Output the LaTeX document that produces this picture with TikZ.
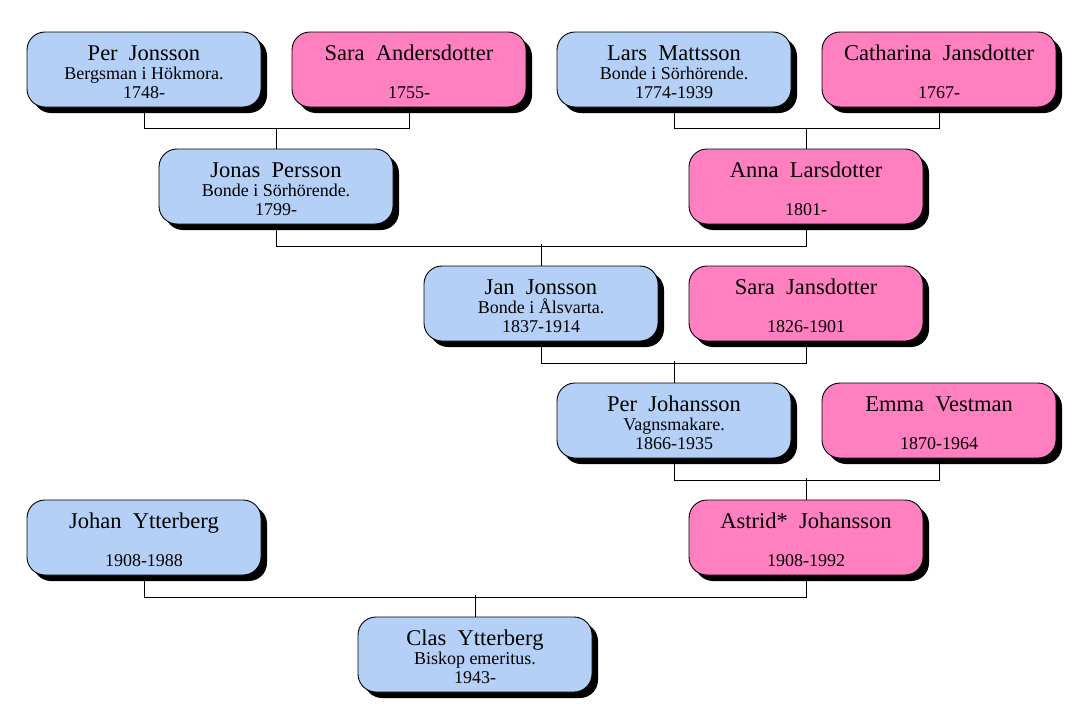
\documentclass[tikz,border=0pt]{standalone}
\usepackage{fontspec}
\setmainfont{Liberation Serif}
\usetikzlibrary{shadows}

\definecolor{manblue}{RGB}{181,208,247}
\definecolor{womanpink}{RGB}{255,128,192}
\tikzset{
  person/.style={draw=black, line width=0.9pt, rounded corners=18pt,
    minimum width=234pt, minimum height=75pt, inner sep=0pt, align=center,
    font=\fontsize{18}{19}\selectfont,
    execute at begin node={\rule{0pt}{58pt}},
    drop shadow={shadow xshift=6pt, shadow yshift=-6pt, fill=black, opacity=1}},
  man/.style={person, fill=manblue},
  woman/.style={person, fill=womanpink},
  link/.style={draw=black, line width=0.9pt},
}
\newcommand{\pname}[1]{{\fontsize{22.5}{19}\selectfont #1}}

\begin{document}
\begin{tikzpicture}[x=1pt, y=-1pt]
   \useasboundingbox (0,0) rectangle (1082,712);

   % row 1
   \node[man]   (perj)   at (144,69.5) {\pname{Per~~Jonsson}\\ Bergsman i Hökmora.\\ 1748-};
   \node[woman] (saraa)  at (409,69.5) {\pname{Sara~~Andersdotter}\\ \mbox{}\\ 1755-};
   \node[man]   (larsm)  at (674,69.5) {\pname{Lars~~Mattsson}\\ Bonde i Sörhörende.\\ 1774-1939};
   \node[woman] (cathj)  at (939,69.5) {\pname{Catharina~~Jansdotter}\\ \mbox{}\\ 1767-};
   % row 2
   \node[man]   (jonasp) at (276,186.5) {\pname{Jonas~~Persson}\\ Bonde i Sörhörende.\\ 1799-};
   \node[woman] (annal)  at (806,186.5) {\pname{Anna~~Larsdotter}\\ \mbox{}\\ 1801-};
   % row 3
   \node[man]   (janj)   at (541,303.5) {\pname{Jan~~Jonsson}\\ Bonde i Ålsvarta.\\ 1837-1914};
   \node[woman] (saraj)  at (806,303.5) {\pname{Sara~~Jansdotter}\\ \mbox{}\\ 1826-1901};
   % row 4
   \node[man]   (perjo)  at (674,420.5) {\pname{Per~~Johansson}\\ Vagnsmakare.\\ 1866-1935};
   \node[woman] (emmav)  at (939,420.5) {\pname{Emma~~Vestman}\\ \mbox{}\\ 1870-1964};
   % row 5
   \node[man]   (johany) at (144,537.5) {\pname{Johan~~Ytterberg}\\ \mbox{}\\ 1908-1988};
   \node[woman] (astrid) at (806,537.5) {\pname{Astrid*~~Johansson}\\ \mbox{}\\ 1908-1992};
   % row 6
   \node[man]   (clasy)  at (475,654.5) {\pname{Clas~~Ytterberg}\\ Biskop emeritus.\\ 1943-};

   % parents to child
   \draw[link] (perj.south) -- ++(0,21) -| (saraa.south);
   \draw[link] (jonasp.north) -- ++(0,-21);
   \draw[link] (larsm.south) -- ++(0,21) -| (cathj.south);
   \draw[link] (annal.north) -- ++(0,-21);
   \draw[link] (jonasp.south) -- ++(0,21.5) -| (annal.south);
   \draw[link] (janj.north) -- ++(0,-21.5);
   \draw[link] (janj.south) -- ++(0,21.5) -| (saraj.south);
   \draw[link] (perjo.north) -- ++(0,-21.5);
   \draw[link] (perjo.south) -- ++(0,21.5) -| (emmav.south);
   \draw[link] (astrid.north) -- ++(0,-21.5);
   \draw[link] (johany.south) -- ++(0,21.5) -| (astrid.south);
   \draw[link] (clasy.north) -- ++(0,-21.5);
\end{tikzpicture}
\end{document}
